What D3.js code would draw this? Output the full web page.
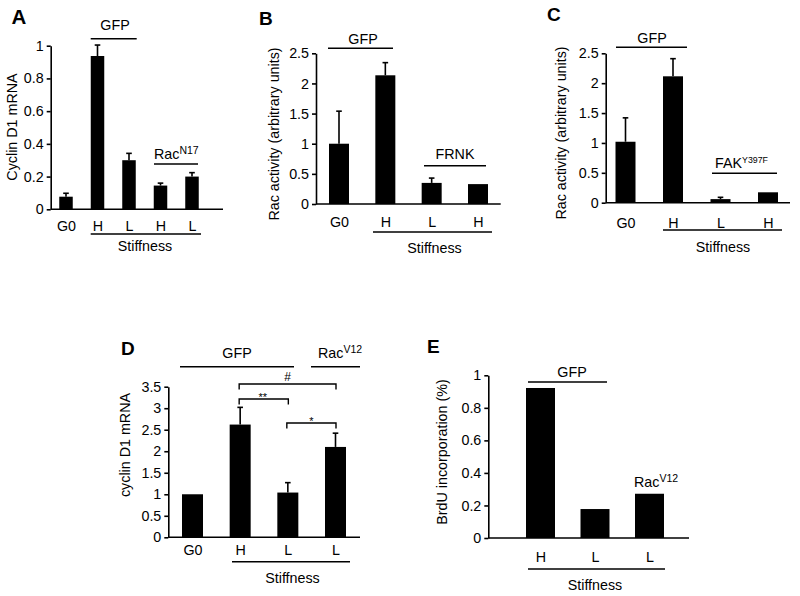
<!DOCTYPE html>
<html><head><meta charset="utf-8">
<script src="https://cdn.jsdelivr.net/npm/d3@7"></script>
<style>
body{margin:0;background:#fff}
svg{display:block}
text{font-family:"Liberation Sans",Arial,sans-serif;fill:#000}
</style></head><body>
<svg id="c" width="800" height="596"></svg>
<script>
// ---------- data ----------
const catsA = ["G0","H","L","H","L"];
const valsA = [0.077,0.937,0.30,0.145,0.20];
const errA  = [0.021,0.067,0.042,0.015,0.024];
const ticksA = [0,0.2,0.4,0.6,0.8,1];

const catsB = ["G0","H","L","H"];
const valsB = [1.0,2.135,0.35,0.33];
const errB  = [0.54,0.21,0.08,0];
const ticksB = [0,0.5,1,1.5,2,2.5];

const catsC = ["G0","H","L","H"];
const valsC = [1.02,2.115,0.06,0.174];
const errC  = [0.40,0.295,0.03,0];
const ticksC = [0,0.5,1,1.5,2,2.5];

const catsD = ["G0","H","L","L"];
const valsD = [1.0,2.62,1.04,2.10];
const errD  = [0,0.40,0.23,0.32];
const ticksD = [0,0.5,1,1.5,2,2.5,3,3.5];
const sigD = [{from:1,to:2,label:"**"},{from:1,to:3,label:"#"},{from:2,to:3,label:"*"}];

const catsE = ["H","L","L"];
const valsE = [0.922,0.178,0.272];
const errE  = [0,0,0];
const ticksE = [0,0.2,0.4,0.6,0.8,1];

// ---------- layout ----------
const FS = 14.3;
const panels = [
 {letter:"A", lsz:20.5, lx:11.5, ly:24, cats:catsA, vals:valsA, err:errA, ticks:ticksA,
  title:"Cyclin D1 mRNA", tx:17, ty:127,
  ax:50.7, xEnd:223, y0:209.3, yTop:45.7, c0:66, c1:192, bw:13.5, lb:231,
  groups:[{t:"GFP", x1:90.7, x2:136.7, y:38.7, tx:115, ty:30, anchor:"middle"},
          {t:"Rac", sup:"N17", ssz:10.5, x1:154, x2:198, y:164, tx:154, ty:158.7, anchor:"start"}],
  stiff:{x1:90.7, x2:201, y:234, tx:145, ty:251}},
 {letter:"B", lsz:19, lx:259, ly:25, cats:catsB, vals:valsB, err:errB, ticks:ticksB,
  title:"Rac activity (arbitrary units)", tx:278.5, ty:134,
  ax:316, xEnd:500.7, y0:204, yTop:53.3, c0:339, c1:478, bw:20, lb:227,
  groups:[{t:"GFP", x1:328, x2:393, y:48.3, tx:363, ty:44, anchor:"middle"},
          {t:"FRNK", x1:424, x2:486, y:165.7, tx:455, ty:159.3, anchor:"middle"}],
  stiff:{x1:373, x2:492, y:232, tx:434.5, ty:253}},
 {letter:"C", lsz:19, lx:547, ly:21, cats:catsC, vals:valsC, err:errC, ticks:ticksC,
  title:"Rac activity (arbitrary units)", tx:566, ty:133,
  ax:605.7, xEnd:790, y0:202.7, yTop:53.3, c0:625.5, c1:768, bw:20, lb:228,
  groups:[{t:"GFP", x1:616, x2:687, y:47.3, tx:652, ty:42.7, anchor:"middle"},
          {t:"FAK", sup:"Y397F", ssz:8.8, x1:712, x2:777, y:173.3, tx:715, ty:168.3, anchor:"start"}],
  stiff:{x1:663, x2:782, y:230, tx:723, ty:251.7}},
 {letter:"D", lsz:19, lx:121, ly:355, cats:catsD, vals:valsD, err:errD, ticks:ticksD, sig:sigD,
  title:"cyclin D1 mRNA", tx:130, ty:445,
  ax:168.3, xEnd:360, y0:537.3, yTop:386.7, c0:192.5, c1:335.5, bw:21, lb:555,
  groups:[{t:"GFP", x1:180, x2:294, y:366.7, tx:237, ty:358, anchor:"middle"},
          {t:"Rac", sup:"V12", ssz:10.5, x1:311, x2:360, y:366.7, tx:318, ty:358, anchor:"start"}],
  sigY:[399,384,423],
  stiff:{x1:232, x2:350, y:561.7, tx:292.5, ty:583}},
 {letter:"E", lsz:19, lx:427, ly:353, cats:catsE, vals:valsE, err:errE, ticks:ticksE,
  title:"BrdU incorporation (%)", tx:447, ty:452,
  ax:488.3, xEnd:689, y0:538, yTop:375.3, c0:540.5, c1:649.5, bw:29, lb:562,
  groups:[{t:"GFP", x1:528, x2:607, y:382, tx:572, ty:377, anchor:"middle"},
          {t:"Rac", sup:"V12", ssz:10.5, tx:634, ty:487, anchor:"start"}],
  stiff:{x1:528, x2:665, y:569, tx:595, ty:590}}
];

const svg = d3.select("#c");
const SW = 1.6;

panels.forEach(p => {
  const g = svg.append("g");
  const ymax = p.ticks[p.ticks.length-1];
  const y = d3.scaleLinear().domain([0, ymax]).range([p.y0, p.yTop]);
  const x = d3.scalePoint().domain(d3.range(p.cats.length)).range([p.c0, p.c1]);

  // bars
  g.selectAll("rect.bar").data(p.vals).join("rect")
    .attr("x", (d,i) => x(i) - p.bw/2).attr("width", p.bw)
    .attr("y", d => y(d)).attr("height", d => p.y0 - y(d))
    .attr("fill", "#000");

  // error bars
  const eb = p.vals.map((v,i) => ({i, v, e:p.err[i]})).filter(d => d.e > 0);
  g.selectAll("line.err").data(eb).join("line")
    .attr("x1", d => x(d.i)).attr("x2", d => x(d.i))
    .attr("y1", d => y(d.v)).attr("y2", d => y(d.v + d.e))
    .attr("stroke", "#000").attr("stroke-width", SW);
  g.selectAll("line.cap").data(eb).join("line")
    .attr("x1", d => x(d.i) - 2.8).attr("x2", d => x(d.i) + 2.8)
    .attr("y1", d => y(d.v + d.e)).attr("y2", d => y(d.v + d.e))
    .attr("stroke", "#000").attr("stroke-width", SW);

  // y axis
  const yAxis = d3.axisLeft(y).tickValues(p.ticks).tickSize(4).tickSizeOuter(0).tickPadding(3)
    .tickFormat(d3.format("~g"));
  const ya = g.append("g").attr("transform", `translate(${p.ax},0)`).call(yAxis);
  ya.selectAll("path,line").attr("stroke", "#000").attr("stroke-width", SW);
  ya.selectAll("text").attr("font-size", FS).attr("font-family", "Liberation Sans, Arial, sans-serif").attr("fill","#000");

  // x axis line
  g.append("line").attr("x1", p.ax).attr("x2", p.xEnd).attr("y1", p.y0).attr("y2", p.y0)
    .attr("stroke", "#000").attr("stroke-width", SW);

  // x labels
  const xAxis = d3.axisBottom(x).tickSize(0).tickPadding(p.lb - p.y0 - 0.71*FS)
    .tickFormat(i => p.cats[i]);
  const xa = g.append("g").attr("transform", `translate(0,${p.y0})`).call(xAxis);
  xa.select(".domain").remove();
  xa.selectAll("text").attr("font-size", FS).attr("font-family", "Liberation Sans, Arial, sans-serif").attr("fill","#000");

  // y title
  g.append("text").attr("transform", `translate(${p.tx},${p.ty}) rotate(-90)`)
    .attr("text-anchor", "middle").attr("font-size", FS).text(p.title);

  // panel letter
  g.append("text").attr("x", p.lx).attr("y", p.ly).attr("font-size", p.lsz)
    .attr("font-weight", "bold").text(p.letter);

  // group annotations
  p.groups.forEach(gr => {
    if (gr.x1 !== undefined)
      g.append("line").attr("x1", gr.x1).attr("x2", gr.x2).attr("y1", gr.y).attr("y2", gr.y)
        .attr("stroke", "#000").attr("stroke-width", SW);
    const t = g.append("text").attr("x", gr.tx).attr("y", gr.ty)
      .attr("text-anchor", gr.anchor).attr("font-size", FS);
    t.append("tspan").text(gr.t);
    if (gr.sup) t.append("tspan").attr("font-size", gr.ssz).attr("dy", -5).text(gr.sup);
  });

  // stiffness
  g.append("line").attr("x1", p.stiff.x1).attr("x2", p.stiff.x2)
    .attr("y1", p.stiff.y).attr("y2", p.stiff.y).attr("stroke", "#000").attr("stroke-width", SW);
  g.append("text").attr("x", p.stiff.tx).attr("y", p.stiff.ty)
    .attr("text-anchor", "middle").attr("font-size", FS).text("Stiffness");

  // significance brackets
  if (p.sig) {
    p.sig.forEach((s, k) => {
      const by = p.sigY[k];
      const x1 = x(s.from) - 1, x2 = x(s.to) + 0.5;
      g.append("path").attr("d", `M${x1},${by+5.5}V${by}H${x2}V${by+5.5}`)
        .attr("fill", "none").attr("stroke", "#000").attr("stroke-width", 1.4);
      g.append("text").attr("x", (x1 + x2)/2 + (s.label==="**" ? -1 : 0))
        .attr("y", s.label === "#" ? by - 3 : by + 1.5)
        .attr("text-anchor", "middle").attr("font-size", s.label === "#" ? 12 : 11).text(s.label);
    });
  }
});
</script>
</body></html>
